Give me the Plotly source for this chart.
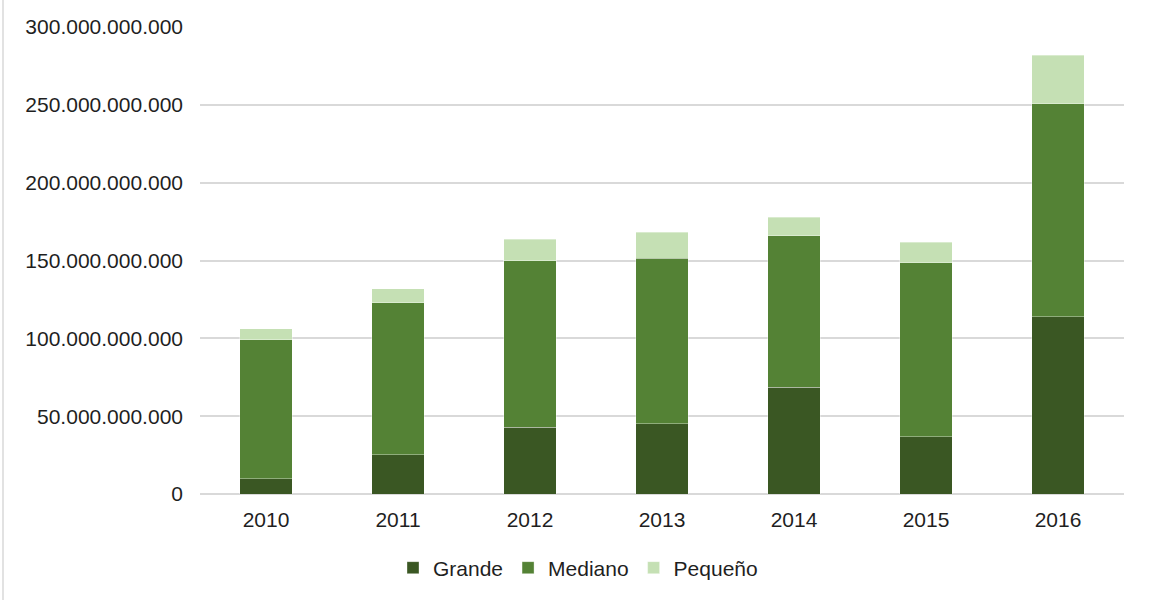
import plotly.graph_objects as go

years = ["2010", "2011", "2012", "2013", "2014", "2015", "2016"]
grande = [9.9e9, 25.3e9, 42.9e9, 45.1e9, 68.7e9, 36.7e9, 113.9e9]
mediano = [89.3e9, 97.6e9, 106.8e9, 106.5e9, 97.1e9, 112.0e9, 136.9e9]
pequeno = [6.8e9, 8.8e9, 14.1e9, 16.7e9, 12.1e9, 13.1e9, 31.1e9]
y_ticks = [0, 50e9, 100e9, 150e9, 200e9, 250e9, 300e9]

W, H = 1149, 600
ML, MR, MT, MB = 200, 25, 27, 106
font = "Liberation Sans, Arial, sans-serif"

fig = go.Figure()
for name, vals, col in [("Grande", grande, "#3A5723"),
                        ("Mediano", mediano, "#548235"),
                        ("Pequeño", pequeno, "#C5E0B4")]:
    fig.add_trace(go.Bar(x=years, y=vals, name=name,
                         marker=dict(color=col, line=dict(color="rgba(255,255,255,0.35)", width=1))))

pw = W - ML - MR
ph = H - MT - MB
# outer chart border (left edge visible)
fig.add_shape(type="line", xref="paper", yref="paper",
              x0=(3 - ML) / pw, x1=(3 - ML) / pw,
              y0=(H - MB - 0) / ph, y1=(H - MB - H) / ph,
              line=dict(color="#D9D9D9", width=1.5))

fig.update_layout(
    width=W, height=H,
    margin=dict(l=ML, r=MR, t=MT, b=MB, autoexpand=False),
    barmode="stack", bargap=0.6,
    plot_bgcolor="white", paper_bgcolor="white",
    separators=",.",
    font=dict(family=font, size=21, color="#1F1F1F"),
    showlegend=True,
    legend=dict(orientation="h", x=(578 - ML) / pw, xanchor="center",
                y=(H - MB - 568) / ph, yanchor="middle",
                font=dict(size=21, color="#1F1F1F"), traceorder="normal",
                itemwidth=30),
    xaxis=dict(showgrid=False, showline=False, ticks="", ticklabelstandoff=11,
               tickfont=dict(size=21)),
    yaxis=dict(range=[0, 300e9], tickvals=y_ticks, tickformat=",d",
               showgrid=True, gridcolor="#D9D9D9", gridwidth=1.5,
               zeroline=True, zerolinecolor="#D9D9D9", zerolinewidth=1.5,
               showline=False, ticks="", ticklabelstandoff=16,
               tickfont=dict(size=21)),
)

fig.write_html("out.html", config={"displayModeBar": False},
               post_script="document.body.style.margin='0';")
